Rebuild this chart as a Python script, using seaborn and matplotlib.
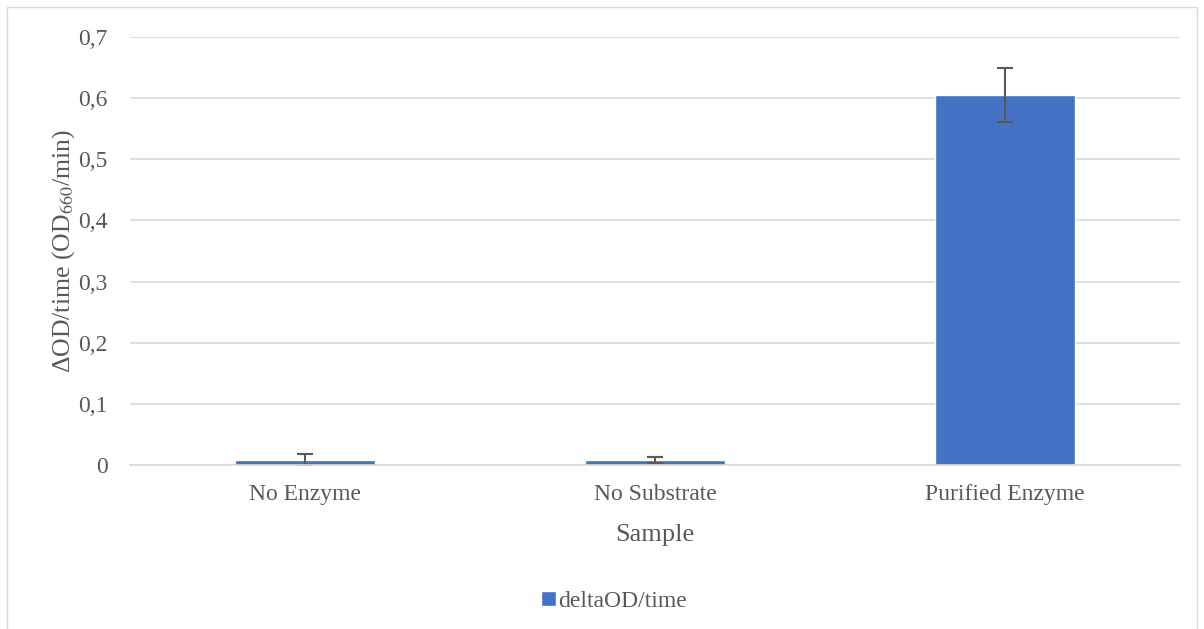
import numpy as np
import pandas as pd
import matplotlib
matplotlib.use('Agg')
import matplotlib.pyplot as plt
import seaborn as sns
from matplotlib.ticker import FuncFormatter
from matplotlib.patches import Rectangle

# Data
samples = ['No Enzyme', 'No Substrate', 'Purified Enzyme']
delta_od = [0.008, 0.008, 0.605]
errors = [0.010, 0.005, 0.044]

df = pd.DataFrame({'Sample': samples, 'deltaOD/time': delta_od})

sns.set_style('white')
plt.rcParams['font.family'] = ['Liberation Serif', 'DejaVu Serif']
plt.rcParams['mathtext.fontset'] = 'stix'

text_grey = '#595959'
bar_blue = '#4472C4'

fig = plt.figure(figsize=(12.04, 6.29), dpi=100)
ax = fig.add_axes([0.108, 0.2607, 0.872, 0.6805])

sns.barplot(data=df, x='Sample', y='deltaOD/time', color=bar_blue,
            width=0.4, errorbar=None, saturation=1, ax=ax,
            label='deltaOD/time')
ax.errorbar(range(len(samples)), delta_od, yerr=errors, fmt='none',
            ecolor=text_grey, elinewidth=1.5, capsize=6, capthick=1.5)

ax.set_ylim(0, 0.7)
ax.set_xlim(-0.5, len(samples) - 0.5)
ax.set_yticks(np.arange(0, 0.71, 0.1))
ax.yaxis.set_major_formatter(FuncFormatter(
    lambda v, p: '0' if abs(v) < 1e-9 else f'{v:.1f}'.replace('.', ',')))
ax.grid(axis='y', color='#d9d9d9', linewidth=1.2)
ax.set_axisbelow(True)
for s in ['left', 'right', 'top']:
    ax.spines[s].set_visible(False)
ax.spines['bottom'].set_color('#d9d9d9')
ax.spines['bottom'].set_linewidth(1.2)
ax.tick_params(axis='both', length=0, labelsize=17, colors=text_grey)
ax.tick_params(axis='y', pad=16)
ax.tick_params(axis='x', pad=14)

ax.set_xlabel('Sample', fontsize=19, color=text_grey, labelpad=13)
ax.set_ylabel(r'ΔOD/time (OD$_{660}$/min)', fontsize=18.5, color=text_grey, labelpad=1)

leg = ax.legend(loc='upper center', bbox_to_anchor=(0.461, -0.245), frameon=False,
                fontsize=17, handlelength=0.6, handleheight=0.6, handletextpad=0.1)
for t in leg.get_texts():
    t.set_color(text_grey)

fig.patches.append(Rectangle((0.006, -0.01), 0.988, 0.999, transform=fig.transFigure,
                             fill=False, edgecolor='#d9d9d9', linewidth=1))

fig.savefig('out.png', dpi=100)
